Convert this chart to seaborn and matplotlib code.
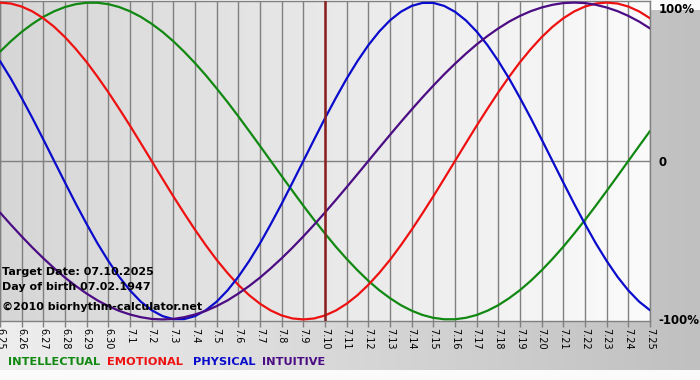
import numpy as np
import pandas as pd
import matplotlib
matplotlib.use("Agg")
import matplotlib.pyplot as plt
from matplotlib.colors import LinearSegmentedColormap
import seaborn as sns

sns.set_theme(style="white")
plt.rcParams["font.family"] = ["DejaVu Sans"]

# days shown on the x axis (June 25 .. July 25)
days = ["6.25", "6.26", "6.27", "6.28", "6.29", "6.30",
        "7.1", "7.2", "7.3", "7.4", "7.5", "7.6", "7.7", "7.8", "7.9", "7.10",
        "7.11", "7.12", "7.13", "7.14", "7.15", "7.16", "7.17", "7.18", "7.19",
        "7.20", "7.21", "7.22", "7.23", "7.24", "7.25"]

# cycle values every half day (-1 .. 1), starting at 6.25
intellectual = [0.690, 0.756, 0.815, 0.866, 0.910, 0.945, 0.972, 0.990, 0.999, 0.999,
                0.990, 0.972, 0.945, 0.910, 0.866, 0.815, 0.756, 0.690, 0.618, 0.541,
                0.458, 0.372, 0.282, 0.189, 0.095, 0.0, -0.095, -0.189, -0.282, -0.372,
                -0.458, -0.541, -0.618, -0.690, -0.756, -0.815, -0.866, -0.910, -0.945, -0.972,
                -0.990, -0.999, -0.999, -0.990, -0.972, -0.945, -0.910, -0.866, -0.815, -0.756,
                -0.690, -0.618, -0.541, -0.458, -0.372, -0.282, -0.189, -0.095, 0.0, 0.095,
                0.189]
emotional = [1.0, 0.994, 0.975, 0.944, 0.901, 0.847, 0.782, 0.707, 0.624, 0.532,
             0.434, 0.330, 0.223, 0.112, 0.0, -0.112, -0.223, -0.330, -0.434, -0.532,
             -0.624, -0.707, -0.782, -0.847, -0.901, -0.944, -0.975, -0.994, -1.0, -0.994,
             -0.975, -0.944, -0.901, -0.847, -0.782, -0.707, -0.624, -0.532, -0.434, -0.330,
             -0.223, -0.112, 0.0, 0.112, 0.223, 0.330, 0.434, 0.532, 0.624, 0.707,
             0.782, 0.847, 0.901, 0.944, 0.975, 0.994, 1.0, 0.994, 0.975, 0.944,
             0.901]
physical = [0.631, 0.520, 0.398, 0.270, 0.136, 0.0, -0.136, -0.270, -0.398, -0.520,
            -0.631, -0.731, -0.817, -0.888, -0.942, -0.979, -0.998, -0.998, -0.979, -0.942,
            -0.888, -0.817, -0.731, -0.631, -0.520, -0.398, -0.270, -0.136, 0.0, 0.136,
            0.270, 0.398, 0.520, 0.631, 0.731, 0.817, 0.888, 0.942, 0.979, 0.998,
            0.998, 0.979, 0.942, 0.888, 0.817, 0.731, 0.631, 0.520, 0.398, 0.270,
            0.136, 0.0, -0.136, -0.270, -0.398, -0.520, -0.631, -0.731, -0.817, -0.888,
            -0.942]
intuitive = [-0.325, -0.402, -0.476, -0.547, -0.614, -0.677, -0.736, -0.789, -0.837, -0.880,
             -0.916, -0.946, -0.969, -0.986, -0.997, -1.0, -0.997, -0.986, -0.969, -0.946,
             -0.916, -0.880, -0.837, -0.789, -0.736, -0.677, -0.614, -0.547, -0.476, -0.402,
             -0.325, -0.246, -0.165, -0.083, 0.0, 0.083, 0.165, 0.246, 0.325, 0.402,
             0.476, 0.547, 0.614, 0.677, 0.736, 0.789, 0.837, 0.880, 0.916, 0.946,
             0.969, 0.986, 0.997, 1.0, 0.997, 0.986, 0.969, 0.946, 0.916, 0.880,
             0.837]

cycles = ["INTELLECTUAL", "EMOTIONAL", "PHYSICAL", "INTUITIVE"]
y_ticks = [-1, 0, 1]
y_labels = ["-100%", "0", "100%"]

target_day = "7.10"
info_lines = ["Target Date: 07.10.2025", "Day of birth 07.02.1947"]
credit = "\u00a92010 biorhythm-calculator.net"

colors = {"INTELLECTUAL": "#118811", "EMOTIONAL": "#ee1111",
          "PHYSICAL": "#0b0bcc", "INTUITIVE": "#4b0c84"}

df = pd.DataFrame({"day": np.arange(len(physical)) / 2,
                   "INTELLECTUAL": intellectual,
                   "EMOTIONAL": emotional,
                   "PHYSICAL": physical,
                   "INTUITIVE": intuitive})
df = df.melt(id_vars="day", var_name="cycle", value_name="value")

# %%
W, H = 700, 380
fig = plt.figure(figsize=(W / 100, H / 100), dpi=100, facecolor="#fbfbfb")

# grey panel behind everything
bg = fig.add_axes([0, 10 / H, 1, 360 / H], zorder=-2)
bg.imshow(np.linspace(0, 1, 256)[None, :], aspect="auto", extent=[0, 1, 0, 1],
          cmap=LinearSegmentedColormap.from_list("bg", ["#eeeeee", "#c0c0c0"]))
bg.axis("off")

ax = fig.add_axes([0, 59 / H, 650 / W, 320 / H])
n = len(days) - 1
ax.imshow(np.linspace(0, 1, 256)[None, :], aspect="auto", extent=[0, n, -1.01, 1.01],
          cmap=LinearSegmentedColormap.from_list("pa", ["#d6d6d6", "#fbfbfb"]), zorder=0)

sns.lineplot(data=df, x="day", y="value", hue="cycle", hue_order=cycles,
             palette=colors, ax=ax, lw=1.6, legend=False, zorder=3)

ax.axvline(days.index(target_day), color="#8b1f1f", lw=1.8, zorder=4)
ax.axhline(0, color="#808080", lw=1, zorder=1)

ax.set_xlim(0, n)
ax.set_ylim(-1.01, 1.01)
ax.set_xticks(range(len(days)))
ax.set_xticklabels(days, rotation=270, fontsize=7, color="black")
ax.grid(axis="x", color="#808080", lw=1, zorder=1)
ax.set_axisbelow(True)
ax.tick_params(axis="x", bottom=True, length=4, width=1, color="#808080", pad=1)

ax.yaxis.tick_right()
ax.set_yticks(y_ticks)
ax.set_yticklabels(y_labels, fontsize=8.5, fontweight="bold", color="black")
ax.tick_params(axis="y", right=False, length=0, pad=6)
for lab in ax.get_yticklabels():
    if lab.get_text() == "100%":
        lab.set_va("top")

ax.set_xlabel("")
ax.set_ylabel("")
for s in ax.spines.values():
    s.set_color("#808080")
    s.set_linewidth(1)

for txt, y in zip(info_lines, [272, 287]):
    fig.text(2 / W, 1 - y / H, txt, fontsize=8, fontweight="bold", va="center",
             color="black")
fig.text(2 / W, 1 - 307 / H, credit, fontsize=8, fontweight="bold", va="center",
         color="black")

x_pos = [8, 107, 193, 262]
for name, x in zip(cycles, x_pos):
    fig.text(x / W, 1 - 362 / H, name, color=colors[name], fontsize=8.2,
             fontweight="bold", va="center")

plt.savefig("out.png", dpi=100, facecolor=fig.get_facecolor())
